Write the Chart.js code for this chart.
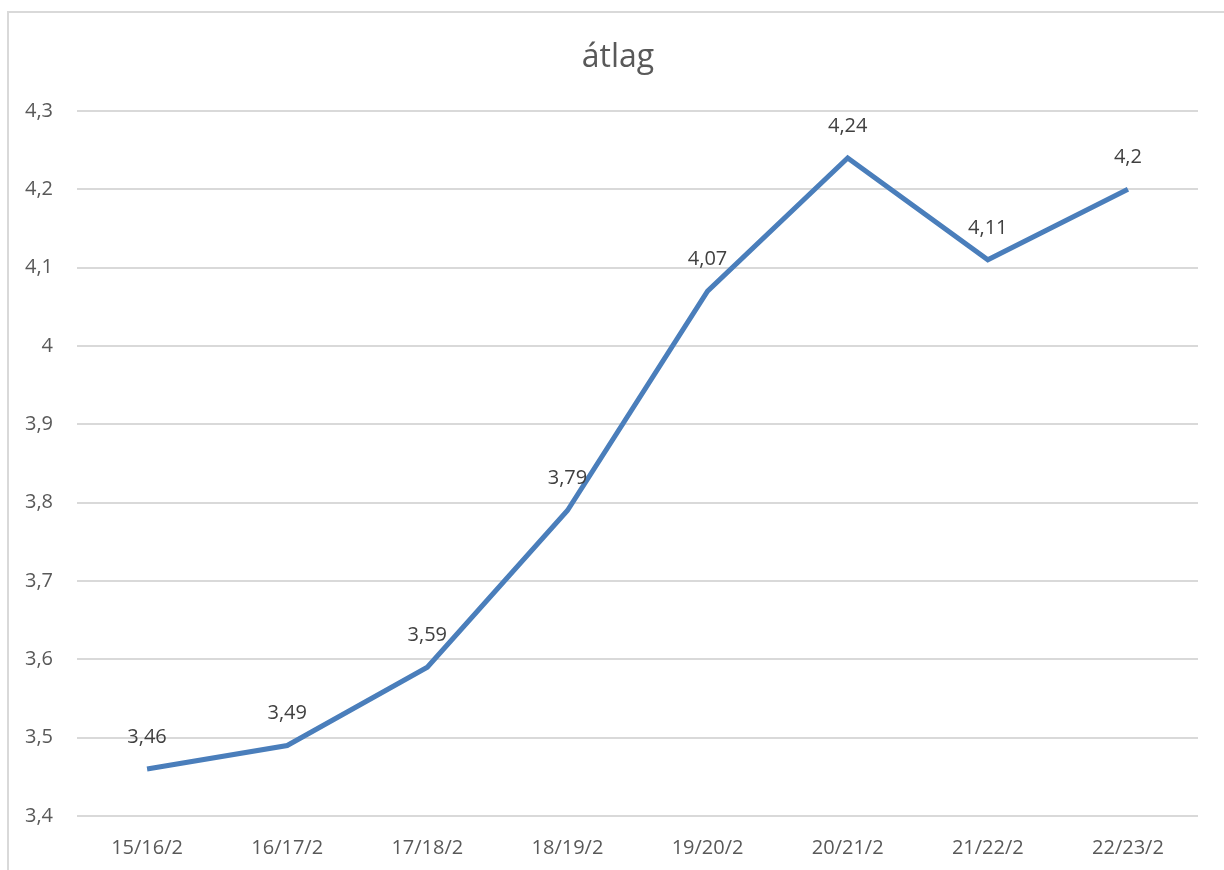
<!DOCTYPE html>
<html>
<head>
<meta charset="utf-8">
<script src="https://cdn.jsdelivr.net/npm/chart.js@4"></script>
<style>
  html, body { margin: 0; padding: 0; background: #fff; }
  #wrap { position: relative; width: 1224px; height: 870px; overflow: hidden; }
  #frame { position: absolute; left: 7px; top: 11px; width: 1230px; height: 880px;
           border-left: 2px solid #d9d9d9; border-top: 2px solid #d9d9d9; box-sizing: border-box; }
  canvas { position: absolute; left: 0; top: 0; }
</style>
</head>
<body>
<div id="wrap">
  <div id="frame"></div>
  <canvas id="atlagChart" width="1224" height="870"></canvas>
</div>
<script>
var cim = 'átlag';
var kategoriak = ['15/16/2', '16/17/2', '17/18/2', '18/19/2', '19/20/2', '20/21/2', '21/22/2', '22/23/2'];
var atlagErtekek = [3.46, 3.49, 3.59, 3.79, 4.07, 4.24, 4.11, 4.2];
var yMin = 3.4;
var yMax = 4.3;
var yLepes = 0.1;

var betu = '"Open Sans", "Noto Sans", sans-serif';

function vesszos(v) {
  return String(Math.round(v * 100) / 100).replace('.', ',');
}

// title centred on the whole frame, data labels above each point
var cimkePlugin = {
  id: 'cimkek',
  afterDatasetsDraw: function (chart) {
    var ctx = chart.ctx;
    var meta = chart.getDatasetMeta(0);
    ctx.save();
    ctx.textAlign = 'center';
    ctx.textBaseline = 'middle';
    ctx.font = '32px ' + betu;
    ctx.fillStyle = '#595959';
    ctx.fillText(cim, 618, 58);
    ctx.font = '20px ' + betu;
    ctx.fillStyle = '#404040';
    meta.data.forEach(function (pt, i) {
      ctx.fillText(vesszos(atlagErtekek[i]), pt.x, pt.y - 32);
    });
    ctx.restore();
  }
};

var atlagCtx = document.getElementById('atlagChart').getContext('2d');
var atlagChart = new Chart(atlagCtx, {
  type: 'line',
  data: {
    labels: kategoriak,
    datasets: [{
      label: cim,
      data: atlagErtekek,
      borderColor: '#4a7ebb',
      borderWidth: 5,
      pointRadius: 0,
      tension: 0,
      fill: false
    }]
  },
  options: {
    responsive: false,
    animation: false,
    layout: { padding: { left: 0, right: 26, top: 111, bottom: 0 } },
    plugins: {
      legend: { display: false },
      tooltip: { enabled: false },
      title: { display: false }
    },
    scales: {
      x: {
        offset: true,
        grid: { display: false, drawTicks: false },
        border: { display: false },
        ticks: {
          color: '#595959',
          font: { family: betu, size: 20 },
          padding: 20,
          maxRotation: 0
        },
        afterFit: function (s) { s.height = 54; }
      },
      y: {
        min: yMin,
        max: yMax,
        grid: { color: '#d9d9d9', lineWidth: 2, drawTicks: false },
        border: { display: false },
        ticks: {
          stepSize: yLepes,
          color: '#595959',
          font: { family: betu, size: 20 },
          padding: 24,
          callback: function (v) { return vesszos(v); }
        },
        afterFit: function (s) { s.width = 77; }
      }
    }
  },
  plugins: [cimkePlugin]
});
</script>
</body>
</html>
